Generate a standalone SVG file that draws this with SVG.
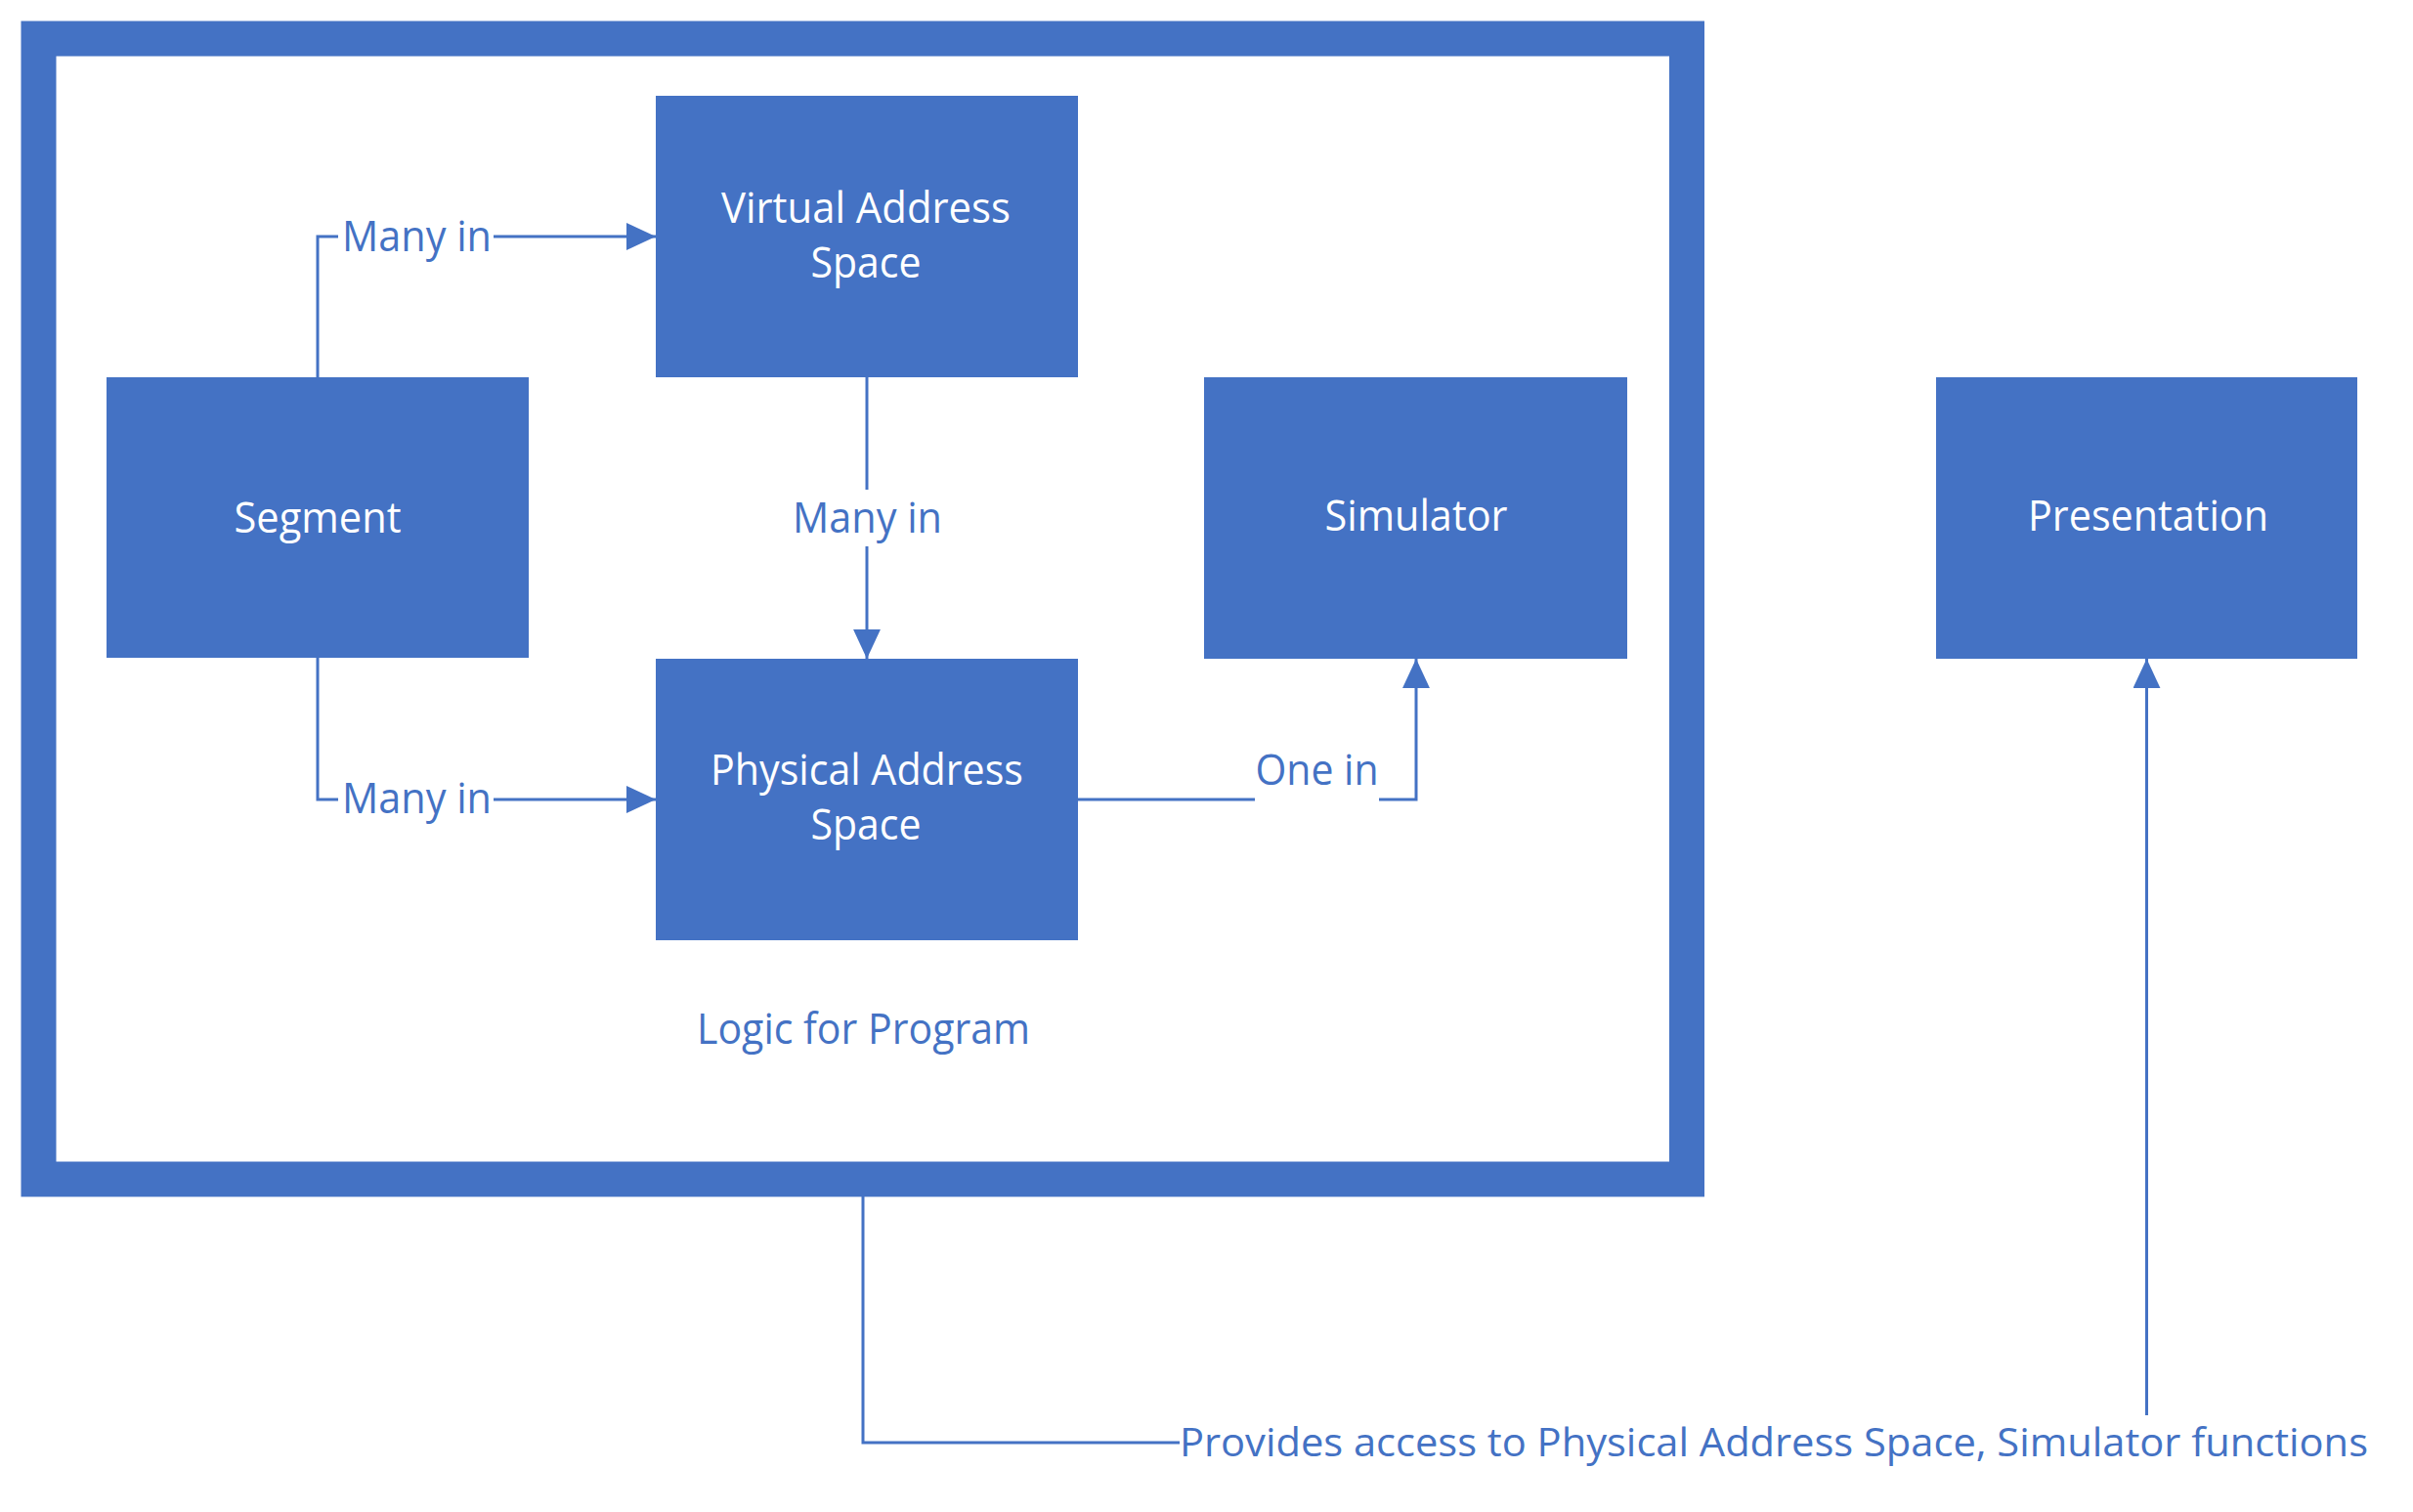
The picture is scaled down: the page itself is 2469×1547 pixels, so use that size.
<svg xmlns="http://www.w3.org/2000/svg" width="2469" height="1547" viewBox="0 0 2469 1547">
  <style>
    .box { fill: #4472C4; }
    .frame { fill: none; stroke: #4472C4; stroke-width: 36; }
    .boxtext { font-family: "Open Sans", "Noto Sans", "Liberation Sans", sans-serif; font-size: 44px; fill: #FFFFFF; text-anchor: middle; }
    .lbl { font-family: "Open Sans", "Noto Sans", "Liberation Sans", sans-serif; font-size: 44px; fill: #4472C4; text-anchor: middle; }
    .long { font-size: 40px; }
    .conn { fill: none; stroke: #4472C4; stroke-width: 3; }
  </style>
  <defs>
    <marker id="arrow" markerUnits="userSpaceOnUse" markerWidth="30" markerHeight="28" viewBox="0 0 28 26" refX="28" refY="13" orient="auto">
      <path d="M0,0 L28,13 L0,26 Z" fill="#4472C4"/>
    </marker>
  </defs>
  <rect width="2469" height="1547" fill="#FFFFFF"/>

  <g id="logic-frame">
    <rect class="frame" x="39.5" y="39.5" width="1686.5" height="1167"/>
    <text class="lbl" x="883.5" y="1068" textLength="341" lengthAdjust="spacingAndGlyphs">Logic for Program</text>
  </g>

  <g id="segment">
    <rect class="box" x="109" y="386" width="432" height="287"/>
    <text class="boxtext" x="325" y="545" textLength="171" lengthAdjust="spacingAndGlyphs">Segment</text>
  </g>

  <g id="virtual-address-space">
    <rect class="box" x="671" y="98" width="432" height="288"/>
    <text class="boxtext" x="886" y="228" textLength="296" lengthAdjust="spacingAndGlyphs">Virtual Address</text>
    <text class="boxtext" x="886" y="284" textLength="113" lengthAdjust="spacingAndGlyphs">Space</text>
  </g>

  <g id="physical-address-space">
    <rect class="box" x="671" y="674" width="432" height="288"/>
    <text class="boxtext" x="887" y="803" textLength="320" lengthAdjust="spacingAndGlyphs">Physical Address</text>
    <text class="boxtext" x="886" y="859" textLength="113" lengthAdjust="spacingAndGlyphs">Space</text>
  </g>

  <g id="simulator">
    <rect class="box" x="1232" y="386" width="433" height="288"/>
    <text class="boxtext" x="1449" y="543" textLength="187" lengthAdjust="spacingAndGlyphs">Simulator</text>
  </g>

  <g id="presentation">
    <rect class="box" x="1981" y="386" width="431" height="288"/>
    <text class="boxtext" x="2198" y="543" textLength="246" lengthAdjust="spacingAndGlyphs">Presentation</text>
  </g>

  <g id="connectors">
    <path class="conn" d="M325,386 V242 H346"/>
    <path class="conn" d="M505,242 H671" marker-end="url(#arrow)"/>
    <text class="lbl" x="426.5" y="257" textLength="153" lengthAdjust="spacingAndGlyphs">Many in</text>

    <path class="conn" d="M325,673 V818 H346"/>
    <path class="conn" d="M505,818 H671" marker-end="url(#arrow)"/>
    <text class="lbl" x="426.5" y="832" textLength="153" lengthAdjust="spacingAndGlyphs">Many in</text>

    <path class="conn" d="M887,386 V501"/>
    <path class="conn" d="M887,559 V674" marker-end="url(#arrow)"/>
    <text class="lbl" x="887.5" y="545" textLength="153" lengthAdjust="spacingAndGlyphs">Many in</text>

    <path class="conn" d="M1103,818 H1284"/>
    <path class="conn" d="M1411,818 H1449 V674" marker-end="url(#arrow)"/>
    <text class="lbl" x="1347.5" y="803" textLength="126" lengthAdjust="spacingAndGlyphs">One in</text>

    <path class="conn" d="M883,1224 V1476 H1207"/>
    <path class="conn" d="M2196.5,1448 V674" marker-end="url(#arrow)"/>
    <text class="lbl long" x="1815" y="1490" textLength="1216" lengthAdjust="spacingAndGlyphs">Provides access to Physical Address Space, Simulator functions</text>
  </g>
</svg>
